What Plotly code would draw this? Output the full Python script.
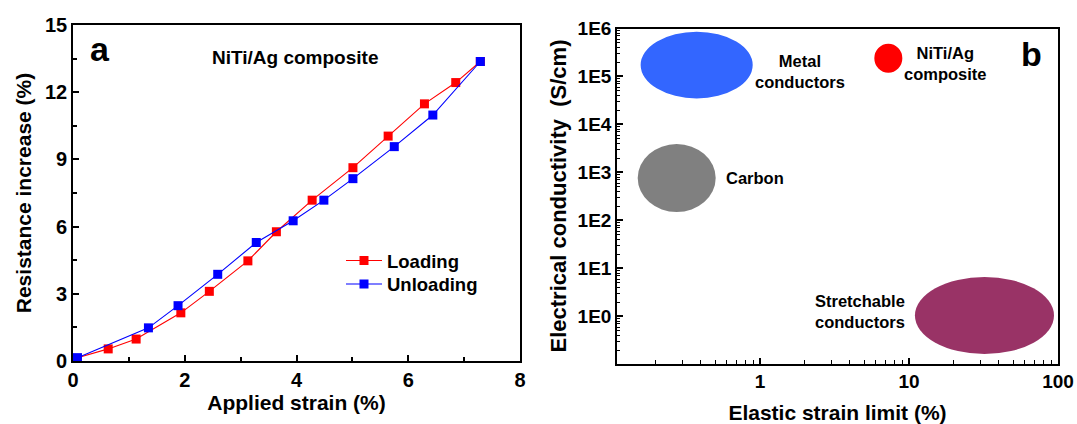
import numpy as np
import plotly.graph_objects as go

# ---------------- data: panel a ----------------
strain_loading = [0.02, 0.63, 1.13, 1.93, 2.44, 3.13, 3.64, 4.28, 5.01, 5.64, 6.29, 6.85, 7.29]
resist_loading = [0.10, 0.54, 0.98, 2.15, 3.11, 4.47, 5.77, 7.18, 8.63, 10.04, 11.48, 12.43, 13.37]
strain_unloading = [7.29, 6.44, 5.75, 5.01, 4.49, 3.94, 3.28, 2.59, 1.88, 1.35, 0.08]
resist_unloading = [13.37, 10.98, 9.57, 8.14, 7.18, 6.26, 5.29, 3.87, 2.47, 1.48, 0.15]

# ---------------- data: panel b (regions) ----------------
materials = ["Metal conductors", "Carbon", "NiTi/Ag composite", "Stretchable conductors"]
strain_min = [0.158, 0.151, 5.85, 10.96]
strain_max = [0.893, 0.504, 9.02, 94.0]
cond_min = [3.5e4, 150.0, 1.2e5, 0.166]
cond_max = [8.6e5, 3.9e3, 4.8e5, 6.65]
region_colors = ["#3366FF", "#808080", "#FF0000", "#993366"]

b_tickvals = [0.1, 1, 10, 100, 1e3, 1e4, 1e5, 1e6]
b_ticktext = ["0", "1E0", "1E1", "1E2", "1E3", "1E4", "1E5", "1E6"]
bx_tickvals = [1, 10, 100]
bx_ticktext = ["1", "10", "100"]

W, H = 1077, 424
FONT = "Liberation Sans, Arial, sans-serif"


def px(x):
    return x / W


def py(y):
    return 1 - y / H


fig = go.Figure()

fig.add_trace(go.Scatter(
    x=strain_loading, y=resist_loading, mode="lines+markers", name="Loading",
    line=dict(color="#FF0000", width=1.1),
    marker=dict(symbol="square", size=9, color="#FF0000"),
    xaxis="x", yaxis="y", legend="legend"))
fig.add_trace(go.Scatter(
    x=strain_unloading, y=resist_unloading, mode="lines+markers", name="Unloading",
    line=dict(color="#0000FF", width=1.1),
    marker=dict(symbol="square", size=9, color="#0000FF"),
    xaxis="x", yaxis="y", legend="legend2"))

# anchor trace for panel b axes
fig.add_trace(go.Scatter(x=[1], y=[1], mode="markers", marker=dict(opacity=0),
                         showlegend=False, hoverinfo="skip", xaxis="x2", yaxis="y2"))

for name, x0, x1, y0, y1, c in zip(materials, strain_min, strain_max, cond_min, cond_max, region_colors):
    fig.add_shape(type="circle", xref="x2", yref="y2", x0=x0, x1=x1, y0=y0, y1=y1,
                  fillcolor=c, line=dict(width=0), layer="below")

minor_y_b = [m * 10.0 ** d for d in range(-1, 6) for m in range(2, 10)]
minor_x_b = [m * 10.0 ** d for d in range(-1, 2) for m in range(2, 10)]

tickfont = dict(family=FONT, size=20, color="black", weight="bold")
tickfont_b = dict(family=FONT, size=19, color="black", weight="bold")
titlefont = dict(family=FONT, size=21, color="black", weight="bold")
legfont = dict(family=FONT, size=18.5, color="black", weight="bold")

common = dict(showline=True, linecolor="black", linewidth=1.6, mirror=True,
              ticks="inside", ticklen=6, tickwidth=1.5, tickcolor="black",
              showgrid=False, zeroline=False, automargin=False)

fig.update_layout(
    width=W, height=H, margin=dict(l=0, r=0, t=0, b=0, pad=0, autoexpand=False),
    paper_bgcolor="white", plot_bgcolor="white",
    showlegend=True,
    legend=dict(x=px(341), y=py(242), xanchor="left", yanchor="top", font=legfont,
                bgcolor="rgba(0,0,0,0)", itemwidth=36),
    legend2=dict(x=px(341), y=py(265.5), xanchor="left", yanchor="top", font=legfont,
                 bgcolor="rgba(0,0,0,0)", itemwidth=36),
    xaxis=dict(domain=[px(73), px(520)], range=[0, 8], tickvals=[0, 2, 4, 6, 8],
               minor=dict(tickvals=[1, 3, 5, 7], ticks="inside", ticklen=4, tickwidth=1.5, tickcolor="black"),
               tickfont=tickfont, title=dict(text="Applied strain (%)", font=titlefont, standoff=6),
               anchor="y", **common),
    yaxis=dict(domain=[py(361), py(25)], range=[0, 15], tickvals=[0, 3, 6, 9, 12, 15],
               minor=dict(tickvals=[1.5, 4.5, 7.5, 10.5, 13.5], ticks="inside", ticklen=4, tickwidth=1.5, tickcolor="black"),
               tickfont=tickfont, title=dict(text="Resistance increase (%)", font=titlefont, standoff=8),
               anchor="x", **common),
    xaxis2=dict(domain=[px(617), px(1058)], type="log", range=[-0.96, 2.0],
                tickvals=bx_tickvals, ticktext=bx_ticktext,
                minor=dict(tickvals=minor_x_b, ticks="inside", ticklen=3.5, tickwidth=1.2, tickcolor="black"),
                tickfont=tickfont_b, title=dict(text="Elastic strain limit (%)", font=titlefont, standoff=14),
                anchor="y2", **common),
    yaxis2=dict(domain=[py(363.5), py(28.5)], type="log", range=[-0.98, 6.0],
                tickvals=b_tickvals, ticktext=b_ticktext,
                minor=dict(tickvals=minor_y_b, ticks="inside", ticklen=3.5, tickwidth=1.2, tickcolor="black"),
                tickfont=tickfont_b,
                title=dict(text="Electrical conductivity\u00a0 (S/cm)",
                           font=dict(family=FONT, size=22, color="black", weight="bold"), standoff=5),
                anchor="x2", **common),
)


def label(text, x, y, size, xanchor="center"):
    fig.add_annotation(text=text, x=px(x), y=py(y), xref="paper", yref="paper",
                       showarrow=False, xanchor=xanchor, yanchor="middle", align="center",
                       font=dict(family=FONT, size=size, color="black", weight="bold"))


label("a", 100, 49, 34)
label("NiTi/Ag composite", 295, 57, 19)
label("b", 1031, 54, 34)
label("Metal<br>conductors", 800, 71.5, 16.5)
label("Carbon", 755, 178, 16.5)
label("NiTi/Ag<br>composite", 945, 63, 16.5)
label("Stretchable<br>conductors", 860, 311, 16.5)

fig.write_html("out.html", config={"displayModeBar": False},
               post_script="document.body.style.margin='0px';document.body.style.overflow='hidden';")
